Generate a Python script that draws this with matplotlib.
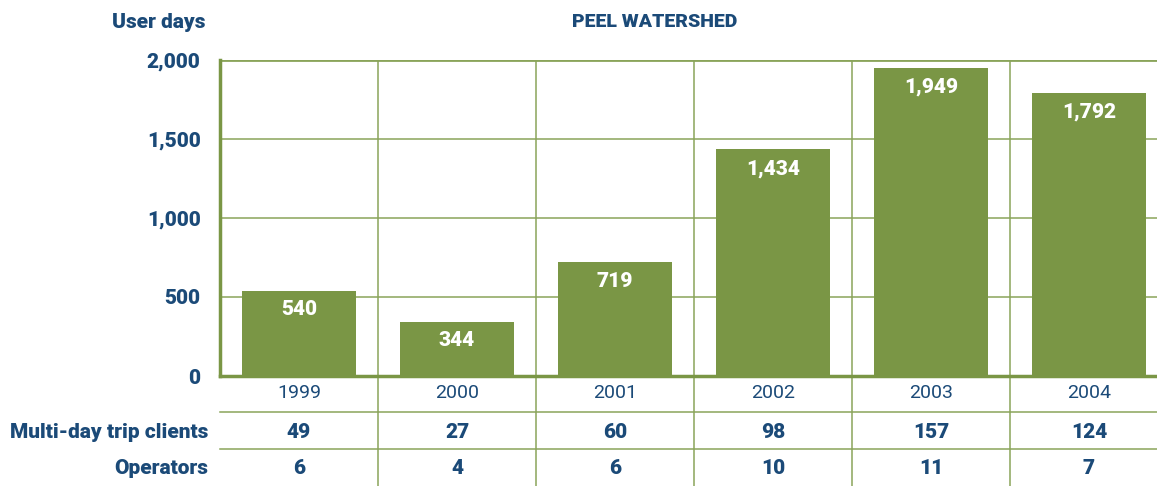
import matplotlib.pyplot as plt
from matplotlib.transforms import blended_transform_factory
from matplotlib import font_manager

# data
years = ["1999", "2000", "2001", "2002", "2003", "2004"]
user_days = [540, 344, 719, 1434, 1949, 1792]
clients = [49, 27, 60, 98, 157, 124]
operators = [6, 4, 6, 10, 11, 7]

GREEN = "#7a9645"
LINE = "#8aa45a"
BLUE = "#1b4a78"

names = {f.name for f in font_manager.fontManager.ttflist}
FONT = ["Liberation Sans Narrow", "DejaVu Sans"] if "Liberation Sans Narrow" in names else ["Roboto", "DejaVu Sans"]
plt.rcParams['font.family'] = FONT

W, H = 1157, 486
fig = plt.figure(figsize=(W / 100, H / 100), dpi=100)
left, right, top, bottom = 220, 1168, 60, 376
ax = fig.add_axes([left / W, (H - bottom) / H, (right - left) / W, (bottom - top) / H])

x = range(len(years))
ax.bar(x, user_days, width=0.72, color=GREEN, zorder=3)
ax.set_xlim(-0.5, 5.5)
ax.set_ylim(0, 2000)

for xi, v in zip(x, user_days):
    ax.annotate(f"{v:,}", (xi, v), xytext=(0, -7), textcoords="offset points",
                ha="center", va="top", color="white", fontsize=15, fontweight="heavy", zorder=4)

# grid
for yv in [500, 1000, 1500]:
    ax.axhline(yv, color=LINE, lw=1.1, zorder=1)
ax.axhline(2000, color=LINE, lw=2, zorder=1)
for xv in [0.5, 1.5, 2.5, 3.5, 4.5]:
    ax.axvline(xv, color=LINE, lw=1.1, zorder=1)

for s in ["top", "right"]:
    ax.spines[s].set_visible(False)
ax.spines["left"].set_color(GREEN)
ax.spines["left"].set_linewidth(2.5)
ax.spines["bottom"].set_color(GREEN)
ax.spines["bottom"].set_linewidth(2.5)

ax.set_xticks([])
ax.set_yticks([0, 500, 1000, 1500, 2000])
ax.set_yticklabels(["0", "500", "1,000", "1,500", "2,000"])
ax.tick_params(axis="y", length=0, pad=14, labelsize=15, labelcolor=BLUE)
for lab in ax.get_yticklabels():
    lab.set_fontweight("heavy")

fig.text(205 / W, 1 - 22 / H, "User days", ha="right", va="center", color=BLUE,
         fontsize=15, fontweight="heavy")
fig.text(655 / W, 1 - 22 / H, "PEEL WATERSHED", ha="center", va="center", color=BLUE,
         fontsize=14, fontweight="heavy")

# table below the chart
tr = blended_transform_factory(ax.transData, ax.transAxes)
ph = bottom - top
def ay(py):
    return (bottom - py) / ph

for xv in [0.5, 1.5, 2.5, 3.5, 4.5]:
    ax.plot([xv, xv], [0, ay(490)], transform=tr, color=LINE, lw=1.1, clip_on=False)
for py in [412, 449]:
    ax.plot([-0.5, 5.6], [ay(py), ay(py)], transform=tr, color=LINE, lw=1.1, clip_on=False)

for xi, yr, c, o in zip(x, years, clients, operators):
    ax.text(xi, ay(393), yr, transform=tr, ha="center", va="center", color=BLUE,
            fontsize=14, fontweight="normal")
    ax.text(xi, ay(432), str(c), transform=tr, ha="center", va="center", color=BLUE,
            fontsize=15, fontweight="heavy")
    ax.text(xi, ay(468), str(o), transform=tr, ha="center", va="center", color=BLUE,
            fontsize=15, fontweight="heavy")

fig.text(208 / W, 1 - 432 / H, "Multi-day trip clients", ha="right", va="center", color=BLUE,
         fontsize=15, fontweight="heavy")
fig.text(208 / W, 1 - 468 / H, "Operators", ha="right", va="center", color=BLUE,
         fontsize=15, fontweight="heavy")

fig.savefig("out.png", dpi=100)
